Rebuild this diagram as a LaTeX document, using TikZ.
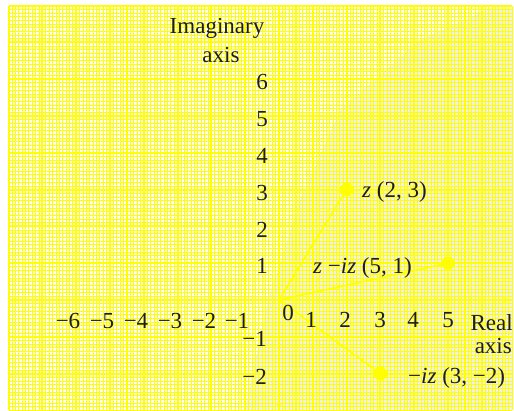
\documentclass[tikz,border=0pt]{standalone}
\usepackage{fontspec}
\setmainfont{Liberation Serif}
\usetikzlibrary{arrows.meta}
\definecolor{gridy}{RGB}{255,255,0}
\definecolor{ink}{RGB}{30,28,28}
\begin{document}
\begin{tikzpicture}[x=1pt,y=-1pt,
  lbl/.style={text=ink,font=\fontsize{23}{25}\selectfont,inner sep=0pt},
  minorline/.style={draw=gridy,line width=0.8pt},
  midline/.style={draw=gridy,line width=1.0pt},
  majorline/.style={draw=gridy,line width=2pt},
  axisline/.style={draw=gridy,line width=1.8pt,{Stealth[length=7pt,width=5pt]}-{Stealth[length=7pt,width=5pt]}},
  vec/.style={draw=gridy,line width=1.7pt},
  dot/.style={circle,draw=gridy,fill=gridy,line width=1.5pt,minimum size=12pt,inner sep=0pt}]
\useasboundingbox (0,0) rectangle (514,410);
\fill[white] (0,0) rectangle (514,410);
\fill[black!6] (495,6) -- (512,6) -- (512,410) -- (245,410) -- (268,300) -- (300,200) -- (340,110) -- (420,40) -- cycle;
\begin{scope}[shift={(279,300)},x=33.8pt,y=36.8pt]
  \foreach \i in {-80,...,69} \draw[minorline] (\i/10,-3) -- (\i/10,8);
  \foreach \j in {-30,...,80} \draw[minorline] (-8,\j/10) -- (6.9,\j/10);
  \foreach \i in {-8,...,6} \draw[midline] (\i+0.5,-3) -- (\i+0.5,8);
  \foreach \j in {-3,...,7} \draw[midline] (-8,\j+0.5) -- (6.9,\j+0.5);
  \foreach \i in {-8,...,6} \draw[majorline] (\i,-3) -- (\i,8);
  \foreach \j in {-2,...,8} \draw[majorline] (-8,\j) -- (6.9,\j);
  \coordinate (xl) at (-7.95,0);
  \coordinate (xr) at (6.85,0);
  \coordinate (yb) at (0,-2.98);
  \coordinate (yt) at (0,7.85);
  \draw[axisline] (xl) -- (xr);
  \draw[axisline] (yb) -- (yt);
  \coordinate (O) at (0,0);
  \node[dot] (Z) at (2,3) {};
  \node[dot] (W) at (5,1) {};
  \node[dot] (V) at (3,-2) {};
  \draw[vec] (O) -- (Z);
  \draw[vec] (O) -- (W);
  \draw[vec] (O) -- (V);
\end{scope}
% axis titles
\node[lbl,anchor=base] (imag) at (217,33) {Imaginary};
\node[lbl,anchor=base] (imagb) at (221,62) {axis};
\node[lbl,anchor=base east] (real) at (513,330) {Real};
\node[lbl,anchor=base east] (realb) at (512,353) {axis};
% y labels
\node[lbl,anchor=base east] (y6) at (268,89) {6};
\node[lbl,anchor=base east] (y5) at (268,126) {5};
\node[lbl,anchor=base east] (y4) at (268,163) {4};
\node[lbl,anchor=base east] (y3) at (268,200) {3};
\node[lbl,anchor=base east] (y2) at (268,237) {2};
\node[lbl,anchor=base east] (y1) at (268,273) {1};
\node[lbl,anchor=base east] (ym1) at (267,346) {−1};
\node[lbl,anchor=base east] (ym2) at (267,384) {−2};
% x labels
\node[lbl,anchor=base] (x0) at (288,320) {0};
\node[lbl,anchor=base] (x1) at (311,327) {1};
\node[lbl,anchor=base] (x2) at (345,327) {2};
\node[lbl,anchor=base] (x3) at (380,327) {3};
\node[lbl,anchor=base] (x4) at (413,327) {4};
\node[lbl,anchor=base] (x5) at (448,327) {5};
\node[lbl,anchor=base] (xm6) at (68,328) {−6};
\node[lbl,anchor=base] (xm5) at (102,328) {−5};
\node[lbl,anchor=base] (xm4) at (136,328) {−4};
\node[lbl,anchor=base] (xm3) at (170,328) {−3};
\node[lbl,anchor=base] (xm2) at (204,328) {−2};
\node[lbl,anchor=base] (xm1) at (237,328) {−1};
% point labels
\node[lbl,anchor=base west] (lz) at (362,197) {\itshape z\upshape{} (2, 3)};
\node[lbl,anchor=base west] (lw) at (313,273) {\itshape z\upshape{} −\itshape iz\upshape{} (5, 1)};
\node[lbl,anchor=base west] (lv) at (408,383) {−\itshape iz\upshape{} (3, −2)};
\end{tikzpicture}
\end{document}
